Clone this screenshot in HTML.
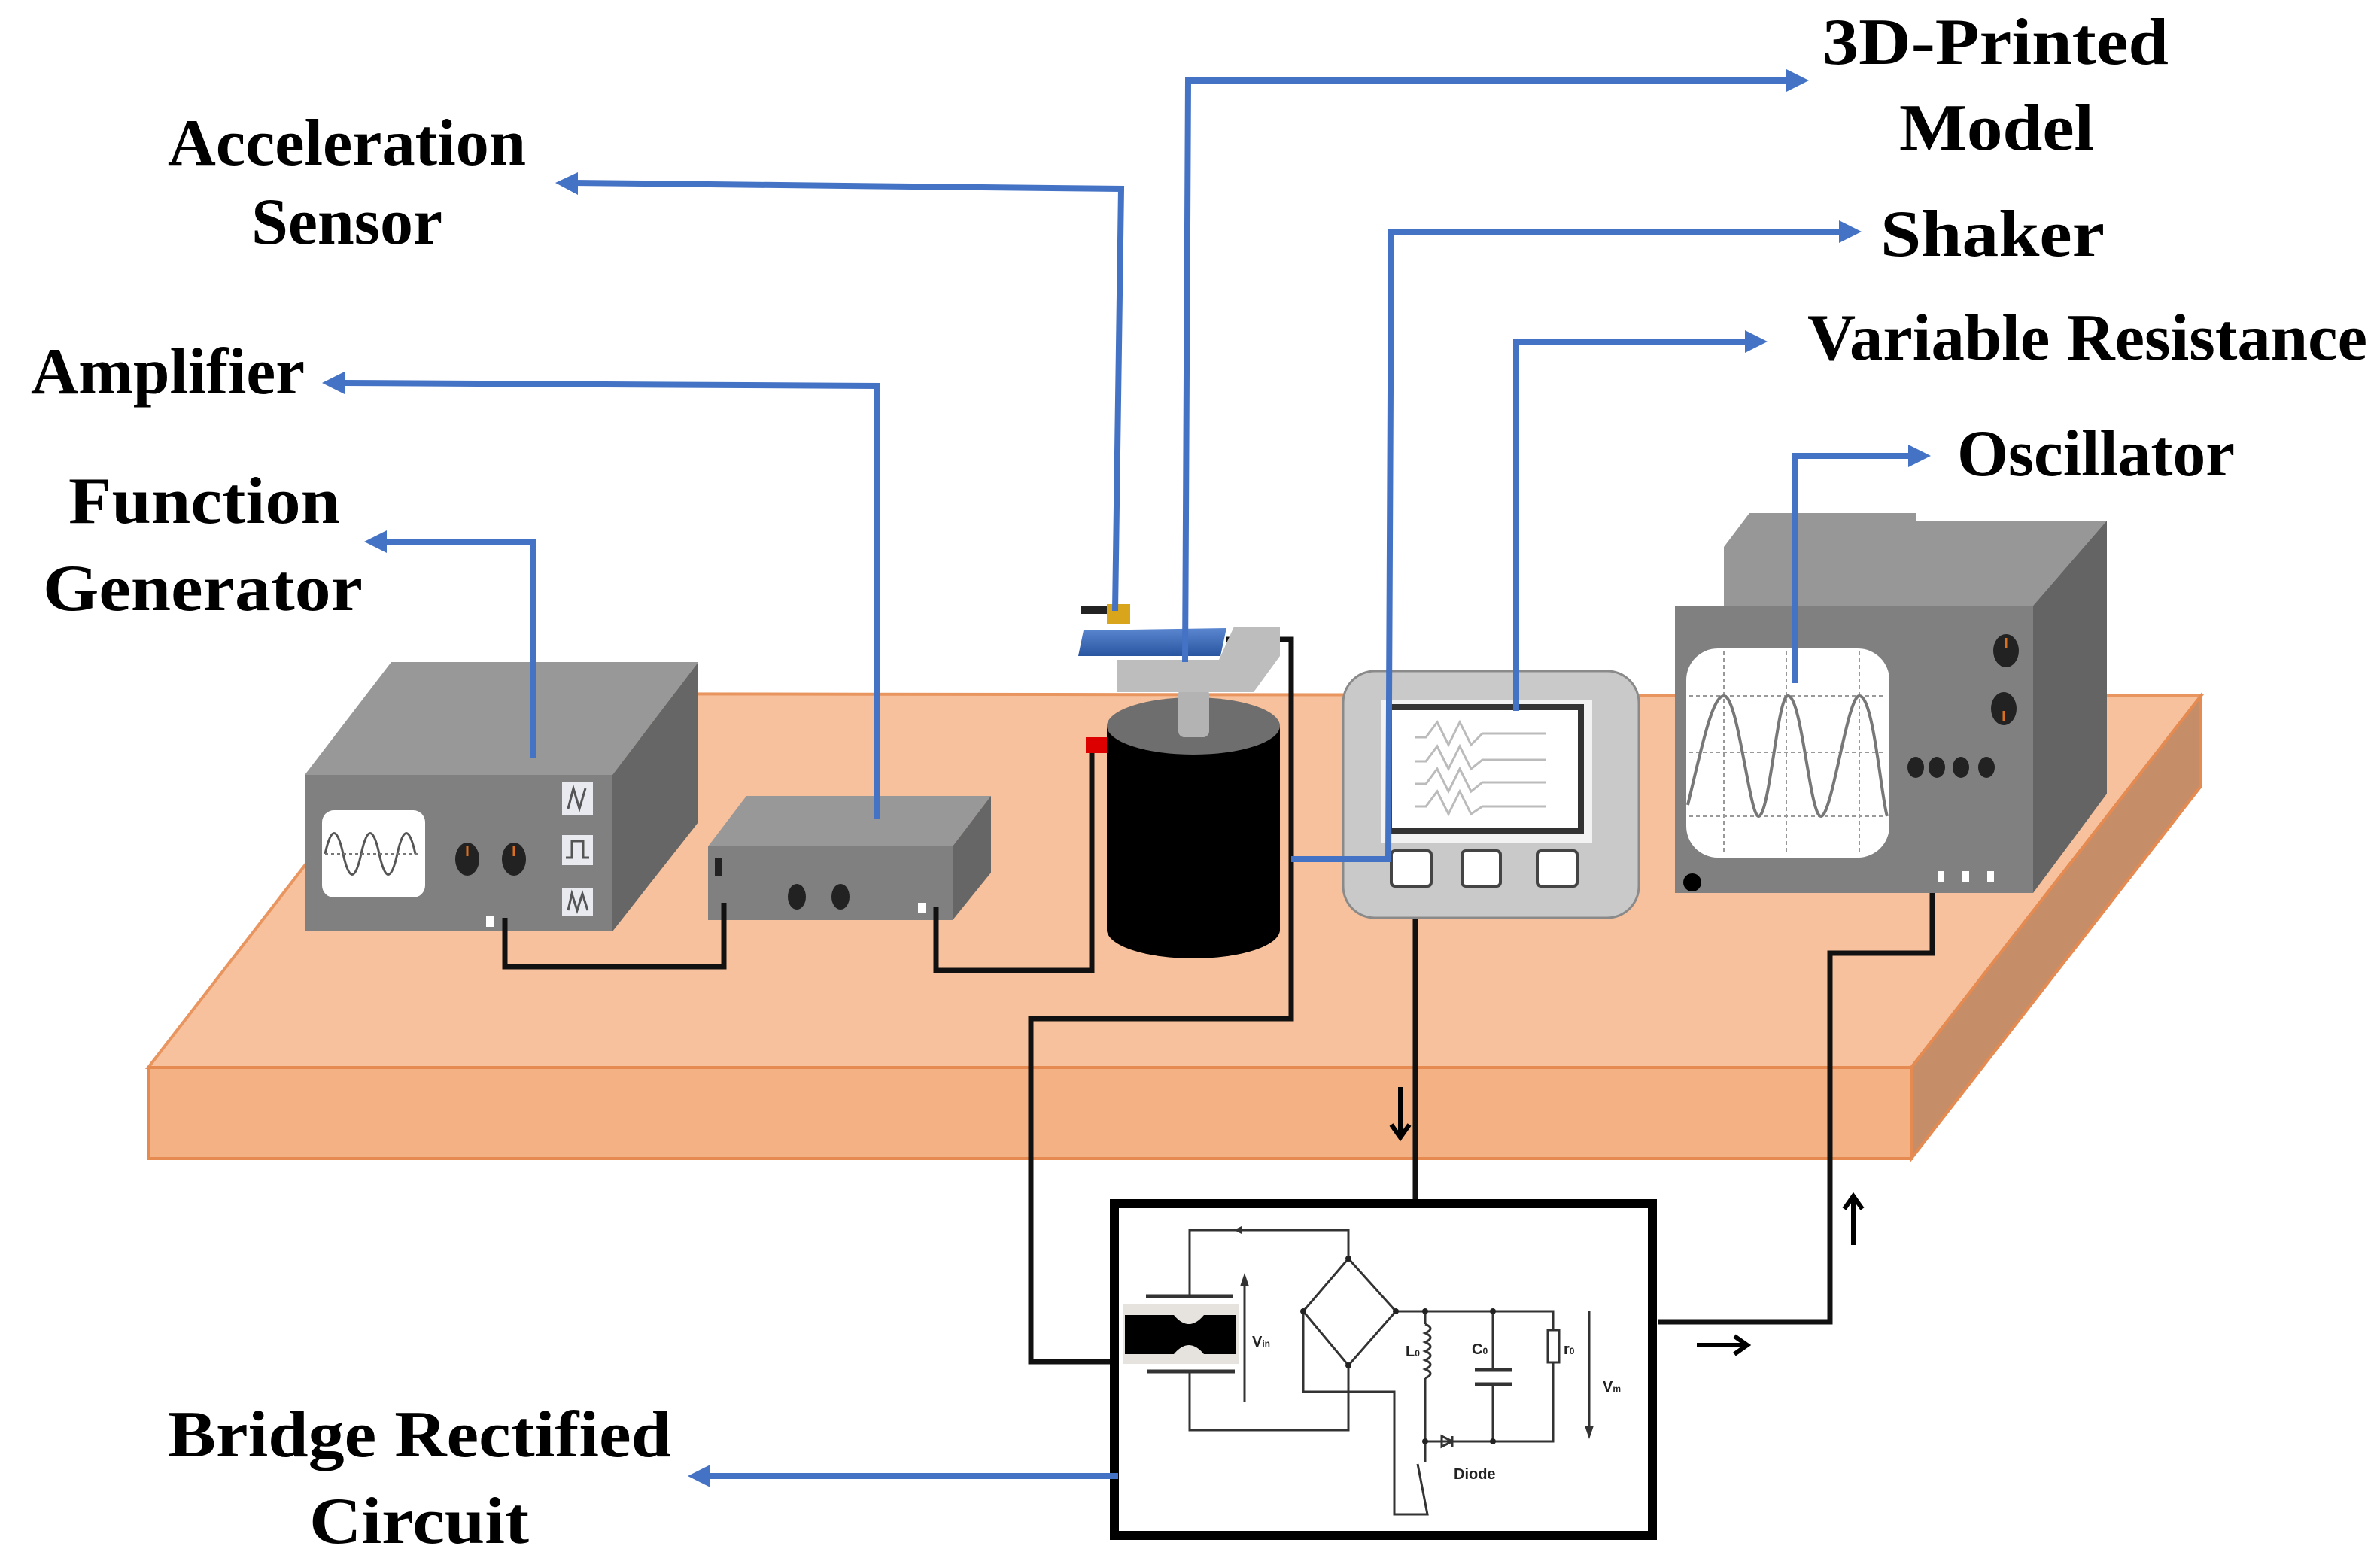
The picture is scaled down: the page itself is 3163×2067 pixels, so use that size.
<!DOCTYPE html>
<html><head><meta charset="utf-8"><style>
html,body{margin:0;padding:0;background:#fff;}
svg{display:block;}
.lbl{font-family:"Liberation Serif",serif;font-weight:bold;font-size:88px;fill:#000;}
.sm{font-family:"Liberation Sans",sans-serif;font-size:20px;fill:#222;font-weight:bold;}
</style></head><body>
<svg width="3163" height="2067" viewBox="0 0 3163 2067" xmlns="http://www.w3.org/2000/svg">
<defs>
<linearGradient id="bl" x1="0" y1="0" x2="0" y2="1"><stop offset="0" stop-color="#5B86D0"/><stop offset="1" stop-color="#2A55A0"/></linearGradient>
</defs>
<!-- table -->
<polygon points="197,1419 2540,1419 2925,925 582,922" fill="#F6C19C" stroke="#E9955F" stroke-width="4"/>
<polygon points="197,1419 2540,1419 2540,1540 197,1540" fill="#F4B184" stroke="#E58A50" stroke-width="4"/>
<polygon points="2540,1419 2925,925 2925,1045 2540,1540" fill="#C68D69" stroke="#E58A50" stroke-width="4"/>

<!-- function generator -->
<polygon points="405,1030 520,880 928,880 814,1030" fill="#989898"/>
<polygon points="814,1030 928,880 928,1093 814,1238" fill="#666"/>
<rect x="405" y="1030" width="409" height="208" fill="#808080"/>
<rect x="428" y="1077" width="137" height="116" rx="16" fill="#fff"/>
<path d="M432,1135 Q444,1080 456,1135 T480,1135 T504,1135 T528,1135 T552,1135" fill="none" stroke="#555" stroke-width="3"/>
<line x1="432" y1="1135" x2="560" y2="1135" stroke="#777" stroke-width="2" stroke-dasharray="4,4"/>
<ellipse cx="621" cy="1142" rx="16" ry="22" fill="#222"/><ellipse cx="683" cy="1142" rx="16" ry="22" fill="#222"/>
<line x1="621" y1="1125" x2="621" y2="1138" stroke="#D9701F" stroke-width="3"/><line x1="683" y1="1125" x2="683" y2="1138" stroke="#D9701F" stroke-width="3"/>
<rect x="747" y="1040" width="41" height="43" fill="#E8EAF0"/><rect x="747" y="1110" width="41" height="40" fill="#E8EAF0"/><rect x="747" y="1180" width="41" height="38" fill="#E8EAF0"/>
<path d="M755,1075 L762,1048 L770,1075 L778,1048" fill="none" stroke="#555" stroke-width="3"/>
<path d="M752,1140 L760,1140 L760,1118 L775,1118 L775,1140 L783,1140" fill="none" stroke="#555" stroke-width="3"/>
<path d="M755,1210 L760,1188 L767,1210 L774,1188 L781,1210" fill="none" stroke="#555" stroke-width="3"/>
<rect x="646" y="1218" width="10" height="14" fill="#fff"/>

<!-- amplifier -->
<polygon points="941,1125 992,1058 1317,1058 1266,1125" fill="#989898"/>
<polygon points="1266,1125 1317,1058 1317,1160 1266,1223" fill="#666"/>
<rect x="941" y="1125" width="325" height="98" fill="#808080"/>
<rect x="950" y="1140" width="9" height="24" fill="#222"/>
<ellipse cx="1059" cy="1192" rx="12" ry="17" fill="#222"/><ellipse cx="1117" cy="1192" rx="12" ry="17" fill="#222"/>
<rect x="1220" y="1200" width="10" height="14" fill="#fff"/>

<!-- black wires -->
<g fill="none" stroke="#111" stroke-width="7">
<polyline points="671,1220 671,1285 962,1285 962,1200"/>
<polyline points="1244,1205 1244,1290 1451,1290 1451,993"/>
<polyline points="1630,850 1716,850 1716,1354 1370,1354 1370,1810 1478,1810"/>
<polyline points="1881,1198 1881,1598"/>
<polyline points="2568,1166 2568,1267 2432,1267 2432,1757 2203,1757"/>
</g>

<!-- shaker -->
<ellipse cx="1586" cy="1236" rx="115" ry="38" fill="#000"/>
<rect x="1471" y="965" width="230" height="271" fill="#000"/>
<ellipse cx="1586" cy="965" rx="115" ry="38" fill="#6E6E6E"/>
<rect x="1566" y="915" width="41" height="65" rx="8" fill="#B3B3B3"/>
<polygon points="1484,877 1620,877 1640,833 1701,833 1701,872 1666,920 1484,920" fill="#BDBDBD"/>
<rect x="1443" y="980" width="28" height="21" fill="#D00"/>
<polygon points="1440,838 1630,835 1622,872 1433,872" fill="url(#bl)"/>
<rect x="1436" y="806" width="36" height="10" fill="#222"/>
<rect x="1471" y="803" width="31" height="27" fill="#D9A51A"/>

<!-- scope device -->
<rect x="1785" y="892" width="393" height="328" rx="42" fill="#C9C9C9" stroke="#8A8A8A" stroke-width="3"/>
<rect x="1836" y="930" width="280" height="190" fill="#F2F2F2"/>
<rect x="1846" y="940" width="255" height="164" fill="#fff" stroke="#333" stroke-width="8"/>
<g fill="none" stroke="#BBB" stroke-width="3">
<path d="M1880,980 L1895,980 L1910,960 L1925,990 L1940,960 L1955,990 L1970,975 L2055,975"/>
<path d="M1880,1012 L1895,1012 L1910,992 L1925,1022 L1940,992 L1955,1022 L1970,1010 L2055,1010"/>
<path d="M1880,1042 L1895,1042 L1910,1022 L1925,1052 L1940,1022 L1955,1052 L1970,1040 L2055,1040"/>
<path d="M1880,1072 L1895,1072 L1910,1052 L1925,1082 L1940,1052 L1955,1082 L1970,1072 L2055,1072"/>
</g>
<rect x="1849" y="1131" width="53" height="47" rx="5" fill="#fff" stroke="#444" stroke-width="4"/>
<rect x="1943" y="1131" width="51" height="47" rx="5" fill="#fff" stroke="#444" stroke-width="4"/>
<rect x="2043" y="1131" width="53" height="47" rx="5" fill="#fff" stroke="#444" stroke-width="4"/>

<!-- oscillator -->
<polygon points="2291,805 2291,727 2325,682 2546,682 2546,692 2800,692 2702,805" fill="#979797"/>
<polygon points="2702,805 2800,692 2800,1055 2702,1187" fill="#646464"/>
<rect x="2226" y="805" width="476" height="382" fill="#808080"/>
<rect x="2241" y="862" width="270" height="278" rx="42" fill="#fff"/>
<g stroke="#999" stroke-width="2" stroke-dasharray="5,4" fill="none">
<line x1="2291" y1="866" x2="2291" y2="1136"/><line x1="2374" y1="866" x2="2374" y2="1136"/><line x1="2471" y1="866" x2="2471" y2="1136"/>
<line x1="2245" y1="925" x2="2507" y2="925"/><line x1="2245" y1="1000" x2="2507" y2="1000"/><line x1="2245" y1="1085" x2="2507" y2="1085"/>
</g>
<path d="M2243,1070 C2260,1000 2275,925 2291,925 C2310,925 2325,1085 2337,1085 C2352,1085 2362,925 2376,925 C2395,925 2405,1085 2420,1085 C2435,1085 2455,925 2471,925 C2490,925 2500,1060 2508,1085" fill="none" stroke="#777" stroke-width="4"/>
<ellipse cx="2666" cy="865" rx="17" ry="22" fill="#222"/><ellipse cx="2663" cy="942" rx="17" ry="22" fill="#222"/>
<line x1="2666" y1="848" x2="2666" y2="862" stroke="#D9701F" stroke-width="3"/><line x1="2663" y1="945" x2="2663" y2="958" stroke="#D9701F" stroke-width="3"/>
<ellipse cx="2546" cy="1020" rx="11" ry="14" fill="#222"/><ellipse cx="2574" cy="1020" rx="11" ry="14" fill="#222"/><ellipse cx="2606" cy="1020" rx="11" ry="14" fill="#222"/><ellipse cx="2640" cy="1020" rx="11" ry="14" fill="#222"/>
<circle cx="2249" cy="1173" r="12" fill="#000"/>
<rect x="2575" y="1158" width="9" height="14" fill="#fff"/><rect x="2608" y="1158" width="9" height="14" fill="#fff"/><rect x="2641" y="1158" width="9" height="14" fill="#fff"/>

<!-- circuit box -->
<rect x="1481" y="1600" width="715" height="441" fill="#fff" stroke="#000" stroke-width="12"/>
<g fill="none" stroke="#333" stroke-width="3">
<polyline points="1581,1723 1581,1635 1792,1635 1792,1673"/>
<line x1="1523" y1="1723" x2="1639" y2="1723" stroke-width="5"/>
<line x1="1525" y1="1823" x2="1641" y2="1823" stroke-width="5"/>
<polyline points="1581,1823 1581,1901 1792,1901 1792,1815"/>
<polygon points="1792,1673 1855,1743 1792,1815 1732,1743"/>
<polyline points="1732,1743 1732,1850 1853,1850 1853,2013 1897,2013 1884,1946"/>
<polyline points="1855,1743 2064,1743 2064,1768"/>
<polyline points="1894,1743 1894,1760"/>
<path d="M1894,1760 q14,6 0,12 q14,6 0,12 q14,6 0,12 q14,6 0,12 q14,6 0,12 q14,6 0,12"/>
<polyline points="1894,1832 1894,1943"/>
<polyline points="1984,1743 1984,1821"/>
<line x1="1960" y1="1821" x2="2010" y2="1821" stroke-width="5"/><line x1="1960" y1="1840" x2="2010" y2="1840" stroke-width="5"/>
<polyline points="1984,1840 1984,1916"/>
<rect x="2057" y="1768" width="15" height="43"/>
<polyline points="2064,1811 2064,1916 1894,1916"/>
<line x1="1654" y1="1863" x2="1654" y2="1700"/>
<line x1="2112" y1="1743" x2="2112" y2="1905"/>
</g>
<rect x="1492" y="1733" width="155" height="80" fill="#E6E3DE"/>
<path d="M1495,1748 L1560,1748 Q1570,1760 1580,1760 Q1590,1760 1600,1748 L1643,1748 L1643,1800 L1600,1800 Q1590,1788 1580,1788 Q1570,1788 1560,1800 L1495,1800 Z" fill="#000"/>
<polygon points="1654,1692 1648,1710 1660,1710" fill="#333"/>
<polygon points="2112,1913 2106,1895 2118,1895" fill="#333"/>
<polygon points="1650,1630 1640,1635 1650,1640" fill="#333"/>
<polygon points="1916,1909 1930,1916 1916,1923" fill="none" stroke="#333" stroke-width="3"/><line x1="1930" y1="1909" x2="1930" y2="1923" stroke="#333" stroke-width="3"/>
<g fill="#222"><circle cx="1792" cy="1673" r="4"/><circle cx="1732" cy="1743" r="4"/><circle cx="1855" cy="1743" r="4"/><circle cx="1792" cy="1815" r="4"/><circle cx="1894" cy="1743" r="4"/><circle cx="1984" cy="1743" r="4"/><circle cx="1894" cy="1916" r="4"/><circle cx="1984" cy="1916" r="4"/></g>
<text class="sm" x="1664" y="1790">V<tspan font-size="12">in</tspan></text>
<text class="sm" x="1868" y="1803">L<tspan font-size="12">0</tspan></text>
<text class="sm" x="1956" y="1800">C<tspan font-size="12">0</tspan></text>
<text class="sm" x="2078" y="1800">r<tspan font-size="12">0</tspan></text>
<text class="sm" x="2130" y="1850">V<tspan font-size="12">m</tspan></text>
<text class="sm" x="1932" y="1966" font-size="16">Diode</text>

<!-- black arrows -->
<g fill="none" stroke="#000" stroke-width="6">
<line x1="1861" y1="1445" x2="1861" y2="1510"/><polyline points="1849,1495 1861,1512 1873,1495"/>
<line x1="2463" y1="1655" x2="2463" y2="1592"/><polyline points="2451,1607 2463,1590 2475,1607"/>
<line x1="2255" y1="1788" x2="2320" y2="1788"/><polyline points="2305,1776 2322,1788 2305,1800"/>
</g>

<!-- blue connectors -->
<g fill="none" stroke="#4472C4" stroke-width="8">
<polyline points="1482,812 1490,251 760,243"/>
<polyline points="1575,880 1579,107 2375,107"/>
<polyline points="1716,1142 1845,1142 1849,308 2445,308"/>
<polyline points="2015,945 2015,454 2320,454"/>
<polyline points="2386,908 2386,606 2536,606"/>
<polyline points="1166,1089 1166,513 456,509"/>
<polyline points="709,1007 709,720 512,720"/>
<polyline points="1486,1962 942,1962"/>
</g>
<g fill="#4472C4">
<polygon points="738,243 768,229 768,259"/>
<polygon points="2404,107 2374,92 2374,122"/>
<polygon points="2474,308 2444,293 2444,323"/>
<polygon points="2349,454 2319,439 2319,469"/>
<polygon points="2566,606 2536,591 2536,621"/>
<polygon points="428,509 458,494 458,524"/>
<polygon points="484,720 514,705 514,735"/>
<polygon points="914,1962 944,1947 944,1977"/>
</g>

<!-- labels -->
<text class="lbl" x="223" y="219" textLength="476" lengthAdjust="spacingAndGlyphs">Acceleration</text>
<text class="lbl" x="334" y="324" textLength="254" lengthAdjust="spacingAndGlyphs">Sensor</text>
<text class="lbl" x="41" y="523" textLength="364" lengthAdjust="spacingAndGlyphs">Amplifier</text>
<text class="lbl" x="91" y="695" textLength="361" lengthAdjust="spacingAndGlyphs">Function</text>
<text class="lbl" x="57" y="811" textLength="425" lengthAdjust="spacingAndGlyphs">Generator</text>
<text class="lbl" x="2422" y="85" textLength="460" lengthAdjust="spacingAndGlyphs">3D-Printed</text>
<text class="lbl" x="2524" y="199" textLength="259" lengthAdjust="spacingAndGlyphs">Model</text>
<text class="lbl" x="2499" y="340" textLength="298" lengthAdjust="spacingAndGlyphs">Shaker</text>
<text class="lbl" x="2402" y="478" textLength="744" lengthAdjust="spacingAndGlyphs">Variable Resistance</text>
<text class="lbl" x="2601" y="632" textLength="369" lengthAdjust="spacingAndGlyphs">Oscillator</text>
<text class="lbl" x="223" y="1936" textLength="669" lengthAdjust="spacingAndGlyphs">Bridge Rectified</text>
<text class="lbl" x="411" y="2051" textLength="292" lengthAdjust="spacingAndGlyphs">Circuit</text>
</svg>
</body></html>
